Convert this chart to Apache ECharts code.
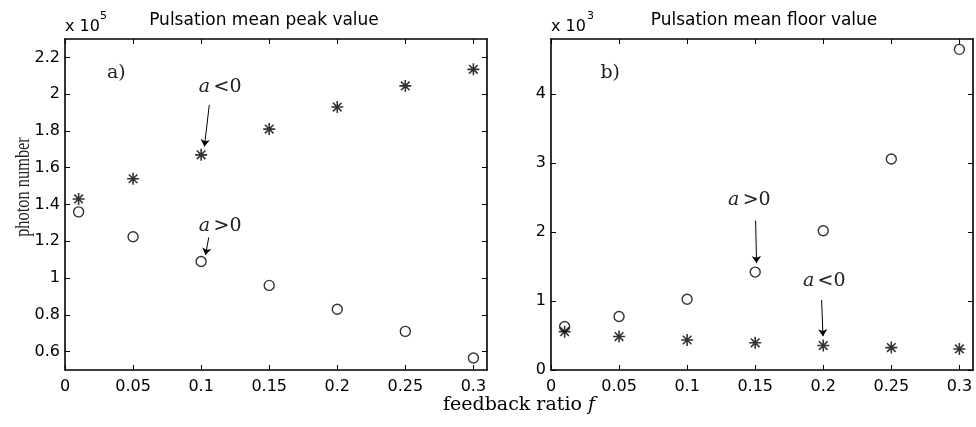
<!DOCTYPE html>
<html>
<head>
<meta charset="utf-8">
<script src="https://cdn.jsdelivr.net/npm/echarts@6/dist/echarts.min.js"></script>
<style>html,body{margin:0;padding:0;background:#fff}#c{width:976px;height:427px}</style>
</head>
<body>
<div id="c"></div>
<script>
// feedback ratio f
const xValues = [0.01, 0.05, 0.1, 0.15, 0.2, 0.25, 0.3];
// Pulsation mean peak value (x 1e5)
const peakNeg = [1.43, 1.54, 1.67, 1.81, 1.93, 2.045, 2.135];   // a<0 (stars)
const peakPos = [1.36, 1.225, 1.09, 0.96, 0.83, 0.71, 0.565];   // a>0 (circles)
// Pulsation mean floor value (x 1e3)
const floorPos = [0.63, 0.775, 1.025, 1.42, 2.02, 3.06, 4.65];  // a>0 (circles)
const floorNeg = [0.555, 0.485, 0.435, 0.395, 0.355, 0.325, 0.305]; // a<0 (stars)
// tick labels
const xTicks = [0, 0.05, 0.1, 0.15, 0.2, 0.25, 0.3];
const yTicksPeak = [0.6, 0.8, 1, 1.2, 1.4, 1.6, 1.8, 2, 2.2];
const yTicksFloor = [0, 1, 2, 3, 4];

const SANS = 'DejaVu Sans';
const SERIF = 'DejaVu Serif';
const STAR = 'path://M0,-6L0,6M-6,0L6,0M-4.3,-4.3L4.3,4.3M-4.3,4.3L4.3,-4.3';

function pairs(ys) { return xValues.map((x, i) => [x, ys[i]]); }

function xAxis(gridIndex, position) {
  return {
    type: 'value', gridIndex, position, min: 0, max: 0.31,
    axisLine: { show: true, onZero: false, lineStyle: { color: '#000', width: 1.6 } },
    axisTick: { show: true, inside: true, length: 5, customValues: xTicks, lineStyle: { color: '#000', width: 1 } },
    axisLabel: { show: position === 'bottom', customValues: xTicks, color: '#000', fontFamily: SANS, fontSize: 16, margin: 9 },
    splitLine: { show: false }
  };
}
function yAxis(gridIndex, position, min, max, ticks) {
  return {
    type: 'value', gridIndex, position, min, max,
    axisLine: { show: true, onZero: false, lineStyle: { color: '#000', width: 1.6 } },
    axisTick: { show: true, inside: true, length: 5, customValues: ticks, lineStyle: { color: '#000', width: 1 } },
    axisLabel: { show: position === 'left', customValues: ticks, color: '#000', fontFamily: SANS, fontSize: 16, margin: 5 },
    splitLine: { show: false }
  };
}

const rich = {
  i: { fontFamily: SERIF, fontStyle: 'italic', fontSize: 19, color: '#222' },
  n: { fontFamily: SERIF, fontSize: 19, color: '#222' }
};
function textPoint(coord, text) {
  return {
    coord, symbol: 'circle', symbolSize: 1, itemStyle: { color: 'rgba(0,0,0,0)' },
    label: { show: true, position: 'inside', formatter: text, rich }
  };
}
function arrows(list) {
  return {
    silent: true, symbol: ['none', 'arrow'], symbolSize: 7, animation: false,
    itemStyle: { color: '#000' },
    lineStyle: { color: '#000', width: 1, type: 'solid' },
    label: { show: false },
    data: list.map(a => [{ coord: a[0] }, { coord: a[1] }])
  };
}

const circleStyle = { color: 'rgba(0,0,0,0)', borderColor: '#000', borderWidth: 1.4 };
const starStyle = { color: 'rgba(0,0,0,0)', borderColor: '#000', borderWidth: 1.6 };

const option = {
  animation: false,
  backgroundColor: '#fff',
  title: [
    { text: 'Pulsation mean peak value', left: 259, top: 7, textAlign: 'center',
      textStyle: { fontFamily: SANS, fontSize: 17, fontWeight: 'normal', color: '#000' } },
    { text: 'Pulsation mean floor value', left: 759, top: 7, textAlign: 'center',
      textStyle: { fontFamily: SANS, fontSize: 17, fontWeight: 'normal', color: '#000' } }
  ],
  grid: [
    { left: 65, top: 39, width: 422, height: 331 },
    { left: 551, top: 39, width: 422, height: 331 }
  ],
  xAxis: [xAxis(0, 'bottom'), xAxis(0, 'top'), xAxis(1, 'bottom'), xAxis(1, 'top')],
  yAxis: [
    yAxis(0, 'left', 0.5, 2.3, yTicksPeak), yAxis(0, 'right', 0.5, 2.3, yTicksPeak),
    yAxis(1, 'left', 0, 4.8, yTicksFloor), yAxis(1, 'right', 0, 4.8, yTicksFloor)
  ],
  series: [
    { name: 'peak a>0', type: 'scatter', xAxisIndex: 0, yAxisIndex: 0, data: pairs(peakPos),
      symbol: 'circle', symbolSize: 10, itemStyle: circleStyle,
      markPoint: { animation: false, data: [textPoint([0.114, 1.283], '{i|a} {n|>0}')] },
      markLine: arrows([[[0.1056, 1.221], [0.1032, 1.125]]]) },
    { name: 'peak a<0', type: 'scatter', xAxisIndex: 0, yAxisIndex: 0, data: pairs(peakNeg),
      symbol: STAR, symbolSize: 12, itemStyle: starStyle,
      markPoint: { animation: false, data: [
        textPoint([0.114, 2.04], '{i|a} {n|<0}'),
        textPoint([0.0377, 2.117], '{n|a)}')
      ] },
      markLine: arrows([[[0.106, 1.942], [0.1024, 1.715]]]) },
    { name: 'floor a>0', type: 'scatter', xAxisIndex: 2, yAxisIndex: 2, data: pairs(floorPos),
      symbol: 'circle', symbolSize: 10, itemStyle: circleStyle,
      markPoint: { animation: false, data: [
        textPoint([0.1457, 2.467], '{i|a} {n|>0}'),
        textPoint([0.0435, 4.31], '{n|b)}')
      ] },
      markLine: arrows([[[0.1503, 2.167], [0.151, 1.55]]]) },
    { name: 'floor a<0', type: 'scatter', xAxisIndex: 2, yAxisIndex: 2, data: pairs(floorNeg),
      symbol: STAR, symbolSize: 12, itemStyle: starStyle,
      markPoint: { animation: false, data: [textPoint([0.2007, 1.296], '{i|a} {n|<0}')] },
      markLine: arrows([[[0.1988, 1.016], [0.1998, 0.49]]]) }
  ],
  graphic: [
    { type: 'text', left: 65, top: 19, style: { text: 'x 10', font: '16px "DejaVu Sans"', fill: '#000' } },
    { type: 'text', left: 100, top: 11, style: { text: '5', font: '11px "DejaVu Sans"', fill: '#000' } },
    { type: 'text', left: 551, top: 19, style: { text: 'x 10', font: '16px "DejaVu Sans"', fill: '#000' } },
    { type: 'text', left: 587, top: 11, style: { text: '3', font: '11px "DejaVu Sans"', fill: '#000' } },
    { type: 'text', x: 23, y: 187, rotation: Math.PI / 2, scaleX: 0.78,
      style: { text: 'photon number', font: '21px "Liberation Serif"', fill: '#222', align: 'center', verticalAlign: 'middle' } },
    { type: 'text', x: 519, y: 405,
      style: { text: '{n|feedback ratio }{i|f}', rich, align: 'center', verticalAlign: 'middle' } }
  ]
};

const chart = echarts.init(document.getElementById('c'), null, { renderer: 'canvas' });
chart.setOption(option);
</script>
</body>
</html>
